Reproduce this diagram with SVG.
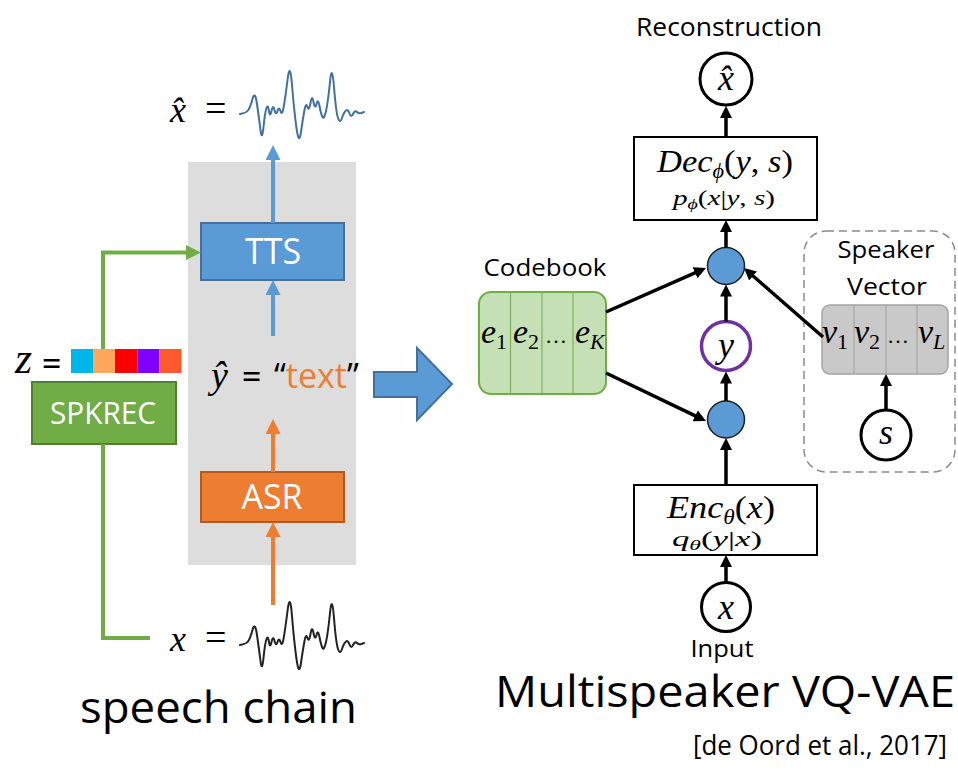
<svg xmlns="http://www.w3.org/2000/svg" width="958" height="769" viewBox="0 0 958 769">
  <style>
    .lbl { font-family: "Open Sans", "Liberation Sans", sans-serif; fill: #000; }
    .boxlbl { font-family: "Open Sans", "Liberation Sans", sans-serif; fill: #fff; text-anchor: middle; }
    .math { font-family: "Liberation Serif", "DejaVu Serif", serif; font-style: italic; fill: #000; }
    .mathup { font-family: "Liberation Serif", "DejaVu Serif", serif; fill: #000; }
    .up { font-style: normal; }
    .blk { stroke: #000; stroke-width: 3.5; fill: none; }
    .node { fill: #fff; stroke: #000; stroke-width: 3; }
    .dot { fill: #5B9BD5; stroke: #1F1F1F; stroke-width: 1.5; }
    .wave { fill: none; stroke-width: 2; stroke-linejoin: round; stroke-linecap: round; }
  </style>
  <defs>
    <marker id="ah-black" markerUnits="userSpaceOnUse" markerWidth="12" markerHeight="12" refX="3" refY="6" orient="auto">
      <path d="M0,0 L12,6 L0,12 z" fill="#000"/>
    </marker>
    <marker id="ah-blue" markerUnits="userSpaceOnUse" markerWidth="15" markerHeight="15" refX="3" refY="7.5" orient="auto">
      <path d="M0,0 L15,7.5 L0,15 z" fill="#5B9BD5"/>
    </marker>
    <marker id="ah-orange" markerUnits="userSpaceOnUse" markerWidth="15" markerHeight="15" refX="3" refY="7.5" orient="auto">
      <path d="M0,0 L15,7.5 L0,15 z" fill="#ED7D31"/>
    </marker>
    <marker id="ah-green" markerUnits="userSpaceOnUse" markerWidth="15" markerHeight="15" refX="3" refY="7.5" orient="auto">
      <path d="M0,0 L15,7.5 L0,15 z" fill="#70AD47"/>
    </marker>
    <!-- smooth speech waveform, reused for input and output -->
    <path id="waveform" class="wave" d="M240,114 Q246,113 248,110.5 Q250,108 252.5,99 Q255,90 257,104 Q259,118 260.5,130 Q262,142 263.5,127 Q265,112 266.5,108 Q268,104 269,111 Q270,118 271.5,111 Q273,104 274.5,110 Q276,116 277.5,111 Q279,106 280.5,111 Q282,116 283.5,108 Q285,100 287.5,80 Q290,60 292,85 Q294,110 296.5,128 Q299,146 301,132 Q303,118 304.5,110 Q306,102 307.5,107 Q309,112 310.5,103 Q312,94 313.5,102 Q315,110 316.5,104 Q318,98 319.5,106 Q321,114 322.5,117 Q324,120 326,111 Q328,102 330,82 Q332,62 334,87 Q336,112 338,118 Q340,124 342,118 Q344,112 346,110.5 Q348,109 349.5,113.5 Q351,118 353,114 Q355,110 357,112 Q359,114 361.5,113 L364,112"/>
  </defs>

  <!-- ===== Speech chain ===== -->
  <rect id="chain-bg" x="188" y="162" width="168" height="403" fill="#DDDDDD"/>

  <g id="output-wave">
    <text class="math" x="170" y="122" font-size="36">x̂</text>
    <text class="mathup" x="205" y="121" font-size="38">=</text>
    <use href="#waveform" stroke="#41719C"/>
  </g>

  <g id="input-wave">
    <text class="math" x="170" y="651" font-size="36">x</text>
    <text class="mathup" x="205" y="650" font-size="38">=</text>
    <use href="#waveform" stroke="#222" transform="translate(0,531)"/>
  </g>

  <g id="tts">
    <rect x="201" y="223" width="143" height="57" fill="#5B9BD5" stroke="#41719C" stroke-width="2"/>
    <text class="boxlbl" x="273" y="264" font-size="36" textLength="56" lengthAdjust="spacingAndGlyphs">TTS</text>
  </g>

  <g id="asr">
    <rect x="201" y="472" width="143" height="50" fill="#ED7D31" stroke="#AE5A21" stroke-width="2"/>
    <text class="boxlbl" x="272" y="509" font-size="35" textLength="61" lengthAdjust="spacingAndGlyphs">ASR</text>
  </g>

  <g id="text-hyp">
    <text class="math" x="211" y="388" font-size="38">ŷ</text>
    <text class="mathup" x="242" y="388" font-size="34" font-weight="bold">=</text>
    <text class="lbl" x="274" y="388" font-size="34"><tspan>“</tspan><tspan fill="#ED7D31">text</tspan><tspan>”</tspan></text>
  </g>

  <g id="spkrec">
    <rect x="32" y="382" width="144" height="62" fill="#70AD47" stroke="#507E32" stroke-width="2"/>
    <text class="boxlbl" x="103" y="424" font-size="31" textLength="106" lengthAdjust="spacingAndGlyphs">SPKREC</text>
  </g>

  <g id="speaker-code">
    <text class="math" x="15" y="373" font-size="44">z</text>
    <text class="mathup" x="42" y="375" font-size="34" font-weight="bold">=</text>
    <rect x="71" y="349" width="22" height="24" fill="#00B6E8"/>
    <rect x="93" y="349" width="22" height="24" fill="#FFA75A"/>
    <rect x="115" y="349" width="22.5" height="24" fill="#FF0000"/>
    <rect x="137.5" y="349" width="22" height="24" fill="#8000FF"/>
    <rect x="159.5" y="349" width="22" height="24" fill="#FF5A2D"/>
  </g>

  <g id="block-arrow">
    <polygon points="374,372 417,372 417,348 452,384 417,420 417,397 374,397" fill="#5B9BD5" stroke="#41719C" stroke-width="2"/>
  </g>

  <text class="lbl" x="80" y="723" font-size="44" textLength="277" lengthAdjust="spacingAndGlyphs">speech chain</text>

  <!-- ===== VQ-VAE ===== -->
  <text class="lbl" x="729" y="36" font-size="26" text-anchor="middle" textLength="186" lengthAdjust="spacingAndGlyphs">Reconstruction</text>

  <g id="xhat-node">
    <circle class="node" cx="726" cy="79" r="26"/>
    <text class="math" x="726" y="90" font-size="36" text-anchor="middle">x̂</text>
  </g>

  <g id="decoder">
    <rect x="634" y="137" width="183" height="83" fill="#fff" stroke="#000" stroke-width="2"/>
    <text class="math" x="725" y="172" font-size="31" text-anchor="middle" textLength="136" lengthAdjust="spacingAndGlyphs">Dec<tspan font-size="20" dy="6">ϕ</tspan><tspan class="up" dy="-6">(</tspan>y<tspan class="up">, </tspan>s<tspan class="up">)</tspan></text>
    <text class="math" x="724" y="205" font-size="22" text-anchor="middle" textLength="102" lengthAdjust="spacingAndGlyphs">p<tspan font-size="15" dy="4">ϕ</tspan><tspan class="up" dy="-4">(</tspan>x<tspan class="up">|</tspan>y<tspan class="up">, </tspan>s<tspan class="up">)</tspan></text>
  </g>

  <g id="combine-top">
    <circle class="dot" cx="726" cy="266" r="18.5"/>
  </g>

  <g id="y-node">
    <circle cx="726" cy="346" r="24.5" fill="#fff" stroke="#7030A0" stroke-width="3.5"/>
    <text class="math" x="726" y="357" font-size="36" text-anchor="middle">y</text>
  </g>

  <g id="combine-bottom">
    <circle class="dot" cx="726" cy="419.5" r="18.5"/>
  </g>

  <g id="encoder">
    <rect x="634" y="485" width="183" height="70" fill="#fff" stroke="#000" stroke-width="2"/>
    <text class="math" x="721" y="518" font-size="31" text-anchor="middle" textLength="108" lengthAdjust="spacingAndGlyphs">Enc<tspan font-size="20" dy="6">θ</tspan><tspan class="up" dy="-6">(</tspan>x<tspan class="up">)</tspan></text>
    <text class="math" x="717" y="546" font-size="22" text-anchor="middle" textLength="90" lengthAdjust="spacingAndGlyphs">q<tspan font-size="15" dy="4">θ</tspan><tspan class="up" dy="-4">(</tspan>y<tspan class="up">|</tspan>x<tspan class="up">)</tspan></text>
  </g>

  <g id="x-node">
    <circle class="node" cx="726" cy="607" r="24.5"/>
    <text class="math" x="726" y="619" font-size="36" text-anchor="middle">x</text>
  </g>
  <text class="lbl" x="722" y="657" font-size="24" text-anchor="middle" textLength="63" lengthAdjust="spacingAndGlyphs">Input</text>

  <g id="codebook">
    <text class="lbl" x="545" y="276" font-size="24" text-anchor="middle" textLength="123" lengthAdjust="spacingAndGlyphs">Codebook</text>
    <rect x="479" y="292" width="127" height="102" rx="12" fill="#C5E0B4" stroke="#70AD47" stroke-width="2"/>
    <line x1="510.5" y1="292" x2="510.5" y2="394" stroke="#7FAF5E" stroke-width="1.2"/>
    <line x1="542" y1="292" x2="542" y2="394" stroke="#7FAF5E" stroke-width="1.2"/>
    <line x1="573" y1="292" x2="573" y2="394" stroke="#7FAF5E" stroke-width="1.2"/>
    <text class="math" x="481" y="343" font-size="34">e<tspan font-size="22" dy="6" font-style="normal">1</tspan></text>
    <text class="math" x="513" y="343" font-size="34">e<tspan font-size="22" dy="6" font-style="normal">2</tspan></text>
    <text class="mathup" x="545" y="343" font-size="22">…</text>
    <text class="math" x="575" y="343" font-size="34">e<tspan font-size="22" dy="6">K</tspan></text>
  </g>

  <g id="speaker-vector">
    <rect x="804" y="231" width="151" height="241" rx="22" fill="none" stroke="#8C8C8C" stroke-width="1.5" stroke-dasharray="8,5"/>
    <text class="lbl" x="886" y="258" font-size="24" text-anchor="middle" textLength="97" lengthAdjust="spacingAndGlyphs">Speaker</text>
    <text class="lbl" x="887" y="295" font-size="24" text-anchor="middle" textLength="80" lengthAdjust="spacingAndGlyphs">Vector</text>
    <rect x="822" y="305" width="126" height="69" rx="8" fill="#C9C9C9" stroke="#A5A5A5" stroke-width="1.5"/>
    <line x1="854" y1="305" x2="854" y2="374" stroke="#A5A5A5" stroke-width="1.2"/>
    <line x1="886" y1="305" x2="886" y2="374" stroke="#A5A5A5" stroke-width="1.2"/>
    <line x1="917" y1="305" x2="917" y2="374" stroke="#A5A5A5" stroke-width="1.2"/>
    <text class="math" x="822" y="343" font-size="34">v<tspan font-size="22" dy="6" font-style="normal">1</tspan></text>
    <text class="math" x="854" y="343" font-size="34">v<tspan font-size="22" dy="6" font-style="normal">2</tspan></text>
    <text class="mathup" x="887" y="343" font-size="22">…</text>
    <text class="math" x="918" y="343" font-size="34">v<tspan font-size="22" dy="6">L</tspan></text>
  </g>

  <g id="s-node">
    <circle class="node" cx="886" cy="435" r="25"/>
    <text class="math" x="886" y="444" font-size="36" text-anchor="middle">s</text>
  </g>

  <text class="lbl" x="955" y="707" font-size="43" text-anchor="end" textLength="460" lengthAdjust="spacingAndGlyphs">Multispeaker VQ-VAE</text>
  <text class="lbl" x="947" y="755" font-size="27" text-anchor="end" textLength="254" lengthAdjust="spacingAndGlyphs">[de Oord et al., 2017]</text>

  <!-- ===== Connectors ===== -->
  <g id="connectors">
    <!-- speech chain -->
    <line x1="273" y1="223" x2="273" y2="157" stroke="#5B9BD5" stroke-width="4" marker-end="url(#ah-blue)"/>
    <line x1="273" y1="336" x2="273" y2="292" stroke="#5B9BD5" stroke-width="4" marker-end="url(#ah-blue)"/>
    <line x1="273" y1="472" x2="273" y2="431" stroke="#ED7D31" stroke-width="4" marker-end="url(#ah-orange)"/>
    <line x1="273" y1="605" x2="273" y2="534" stroke="#ED7D31" stroke-width="4" marker-end="url(#ah-orange)"/>
    <polyline points="103,349 103,252.5 189,252.5" fill="none" stroke="#70AD47" stroke-width="4" marker-end="url(#ah-green)"/>
    <polyline points="103,444 103,638 150,638" fill="none" stroke="#70AD47" stroke-width="4"/>

    <!-- VQ-VAE -->
    <line class="blk" x1="726" y1="137" x2="726" y2="115" marker-end="url(#ah-black)"/>
    <line class="blk" x1="726" y1="247.5" x2="726" y2="229" marker-end="url(#ah-black)"/>
    <line class="blk" x1="726" y1="321.5" x2="726" y2="293.5" marker-end="url(#ah-black)"/>
    <line class="blk" x1="726" y1="401" x2="726" y2="380.5" marker-end="url(#ah-black)"/>
    <line class="blk" x1="726" y1="485" x2="726" y2="447" marker-end="url(#ah-black)"/>
    <line class="blk" x1="726" y1="582.5" x2="726" y2="564" marker-end="url(#ah-black)"/>
    <line class="blk" x1="886" y1="410" x2="886" y2="383" marker-end="url(#ah-black)"/>
    <line class="blk" x1="606" y1="312" x2="697.8" y2="271.6" marker-end="url(#ah-black)"/>
    <line class="blk" x1="606" y1="373" x2="697.9" y2="417.1" marker-end="url(#ah-black)"/>
    <line class="blk" x1="823" y1="337" x2="750.8" y2="274" marker-end="url(#ah-black)"/>
  </g>
</svg>
